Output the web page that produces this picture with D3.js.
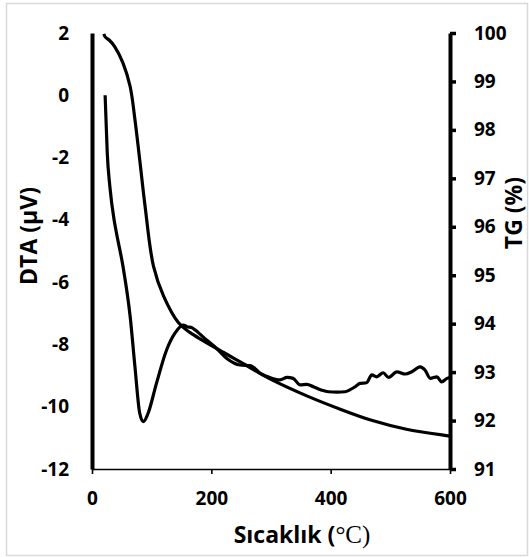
<!DOCTYPE html>
<html>
<head>
<meta charset="utf-8">
<script src="https://cdn.jsdelivr.net/npm/d3@7"></script>
<style>
  body { margin: 0; background: #fff; }
  svg { display: block; }
  .tick text { font-family: "Open Sans", sans-serif; font-weight: bold; font-size: 19px; fill: #000; }
  .title { font-family: "Open Sans", sans-serif; font-weight: bold; font-size: 23px; fill: #000; }
</style>
</head>
<body>
<div id="chart-area"></div>
<script>
// temperature (°C) and TG (%)
const tgTemp = [20, 22, 30, 38, 52, 64, 72, 80, 89, 103, 120, 145, 164, 220, 250, 300, 360, 415, 470, 527, 594, 600];
const tgValue = [99.98, 99.92, 99.84, 99.72, 99.38, 98.89, 98.21, 97.38, 96.42, 95.19, 94.57, 94.02, 93.82, 93.41, 93.20, 92.85, 92.51, 92.24, 92.00, 91.82, 91.69, 91.68];

// temperature (°C) and DTA (µV)
const dtaTemp = [22, 23.5, 25.6, 30, 37, 41, 52, 64, 72, 80, 86, 94, 108, 125, 139, 153, 159, 168, 173, 181, 192, 209, 226, 248, 265, 273, 282, 295, 315, 327, 337, 349, 360, 371, 384, 396, 411, 424, 432, 441, 449, 460, 469, 477, 488, 497, 511, 525, 536, 550, 558, 567, 578, 586, 595, 600];
const dtaValue = [0.0, -0.79, -1.86, -2.94, -4.0, -4.42, -5.5, -7.11, -8.72, -10.21, -10.48, -10.21, -9.25, -8.18, -7.64, -7.38, -7.43, -7.47, -7.54, -7.67, -7.86, -8.13, -8.45, -8.66, -8.68, -8.77, -8.93, -9.04, -9.14, -9.06, -9.09, -9.30, -9.28, -9.36, -9.46, -9.52, -9.53, -9.52, -9.46, -9.36, -9.25, -9.23, -8.98, -9.04, -8.91, -9.06, -8.88, -8.95, -8.88, -8.72, -8.82, -9.09, -9.04, -9.20, -9.09, -9.06];

const xTicks = [0, 200, 400, 600];
const dtaTicks = [2, 0, -2, -4, -6, -8, -10, -12];
const tgTicks = [100, 99, 98, 97, 96, 95, 94, 93, 92, 91];

const width = 529;
const height = 557;

const svg = d3.select("#chart-area")
    .append("svg")
    .attr("width", width)
    .attr("height", height);

// outer frame
svg.append("rect")
    .attr("x", 6.5).attr("y", 3.5)
    .attr("width", 521).attr("height", 552)
    .attr("fill", "none")
    .attr("stroke", "#d9d9d9")
    .attr("stroke-width", 1.5);

const xScale = d3.scaleLinear().domain([0, 600]).range([92, 450]);
const yLeft = d3.scaleLinear().domain([-12, 2]).range([469, 33]);
const yRight = d3.scaleLinear().domain([91, 100]).range([469, 33]);

// plain hyphen for negatives, like the original
const plain = d => String(d);

// x axis
const xAxisGroup = svg.append("g")
    .attr("transform", "translate(0,469)")
    .call(d3.axisBottom(xScale).tickValues(xTicks).tickFormat(plain).tickSize(5).tickSizeOuter(0).tickPadding(18));
xAxisGroup.select(".domain").attr("stroke", "#000").attr("stroke-width", 1.6);
xAxisGroup.selectAll(".tick line").attr("stroke", "#000").attr("stroke-width", 1.6);

// left axis (DTA)
const leftGroup = svg.append("g")
    .attr("transform", "translate(92,0)")
    .call(d3.axisLeft(yLeft).tickValues(dtaTicks).tickFormat(plain).tickSize(0).tickSizeOuter(0).tickPadding(23));
leftGroup.select(".domain").attr("stroke", "#000").attr("stroke-width", 4);

// right axis (TG)
const rightGroup = svg.append("g")
    .attr("transform", "translate(450,0)")
    .call(d3.axisRight(yRight).tickValues(tgTicks).tickFormat(plain).tickSize(6).tickSizeOuter(0).tickPadding(18));
rightGroup.select(".domain").attr("stroke", "#000").attr("stroke-width", 4);
rightGroup.selectAll(".tick line").attr("stroke", "#000").attr("stroke-width", 3.5);

// curves
const tgData = tgTemp.map((t, i) => ({t: t, v: tgValue[i]}));
const dtaData = dtaTemp.map((t, i) => ({t: t, v: dtaValue[i]}));

const tgLine = d3.line()
    .x(d => xScale(d.t))
    .y(d => yRight(d.v))
    .curve(d3.curveCatmullRom.alpha(0.5));

const dtaLine = d3.line()
    .x(d => xScale(d.t))
    .y(d => yLeft(d.v))
    .curve(d3.curveMonotoneX);

svg.append("path")
    .datum(tgData)
    .attr("d", tgLine)
    .attr("fill", "none")
    .attr("stroke", "#000")
    .attr("stroke-width", 3.2)
    .attr("stroke-linejoin", "round");

svg.append("path")
    .datum(dtaData)
    .attr("d", dtaLine)
    .attr("fill", "none")
    .attr("stroke", "#000")
    .attr("stroke-width", 3.2)
    .attr("stroke-linejoin", "round");

// axis titles
svg.append("text")
    .attr("class", "title")
    .attr("transform", "translate(37,236) rotate(-90)")
    .attr("text-anchor", "middle")
    .text("DTA (µV)");

svg.append("text")
    .attr("class", "title")
    .attr("transform", "translate(522,213) rotate(-90)")
    .attr("text-anchor", "middle")
    .text("TG (%)");

const xTitle = svg.append("text")
    .attr("class", "title")
    .attr("x", 302)
    .attr("y", 543)
    .attr("text-anchor", "middle");
xTitle.append("tspan").text("Sıcaklık (");
xTitle.append("tspan")
    .style("font-family", "'Liberation Serif', serif")
    .style("font-weight", "normal")
    .style("font-size", "25px")
    .text("°C)");
</script>
</body>
</html>
